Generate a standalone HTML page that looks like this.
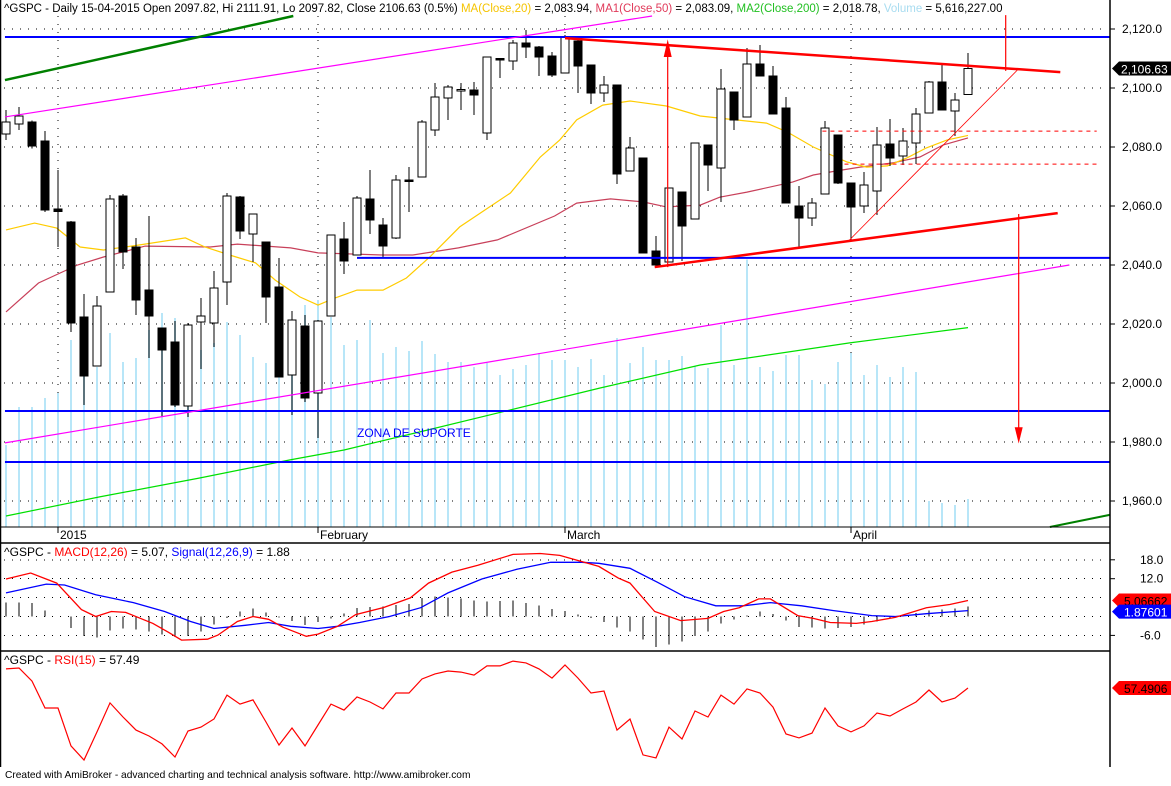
<!DOCTYPE html>
<html><head><meta charset="utf-8"><style>
html,body{margin:0;padding:0;background:#fff;}
body{width:1171px;height:781px;overflow:hidden;font-family:"Liberation Sans",Arial,sans-serif;}
svg text{font-family:"Liberation Sans",Arial,sans-serif;}
</style></head><body>
<svg id="chart" width="1171" height="781" viewBox="0 0 1171 781" xmlns="http://www.w3.org/2000/svg">
<rect width="1171" height="781" fill="#fff"/>
<g id="grid"></g>
<g id="vol"></g>
<g id="mas"></g>
<g id="candles"></g>
<g id="draw"></g>
<g id="macd"></g>
<g id="rsi"></g>
<g id="axes"></g>
<text x="4" y="12" font-size="11.5"><tspan fill="#000">^GSPC - Daily 15-04-2015 Open 2097.82, Hi 2111.91, Lo 2097.82, Close 2106.63 (0.5%) </tspan><tspan fill="#f5c400">MA(Close,20)</tspan><tspan fill="#000"> = 2,083.94, </tspan><tspan fill="#e03a5a">MA1(Close,50)</tspan><tspan fill="#000"> = 2,083.09, </tspan><tspan fill="#22c022">MA2(Close,200)</tspan><tspan fill="#000"> = 2,018.78, </tspan><tspan fill="#a8dcf0">Volume</tspan><tspan fill="#000"> = 5,616,227.00</tspan></text>
<text x="357" y="437" font-size="12" fill="#0000ff">ZONA DE SUPORTE</text>
<text x="4" y="556" font-size="12"><tspan fill="#000">^GSPC - </tspan><tspan fill="#ff0000">MACD(12,26)</tspan><tspan fill="#000"> = 5.07, </tspan><tspan fill="#0000ff">Signal(12,26,9)</tspan><tspan fill="#000"> = 1.88</tspan></text>
<text x="4" y="664" font-size="12"><tspan fill="#000">^GSPC - </tspan><tspan fill="#ff0000">RSI(15)</tspan><tspan fill="#000"> = 57.49</tspan></text>
<text x="5" y="778" font-size="10.2" fill="#000">Created with AmiBroker - advanced charting and technical analysis software. http://www.amibroker.com</text>
</svg>
<script>
const opens=[2084.4,2087.8,2088.5,2082.0,2059.0,2054.6,2022.4,2005.8,2030.8,2063.4,2046.1,2031.5,2018.6,2013.9,1992.2,2020.7,2020.3,2034.2,2063.0,2050.5,2047.8,2032.5,2002.7,2019.3,1996.6,2022.7,2048.8,2043.4,2062.4,2053.6,2049.2,2068.8,2069.8,2085.8,2096.6,2099.0,2099.3,2084.7,2110.0,2109.2,2115.3,2113.9,2110.8,2105.1,2116.0,2107.8,2098.3,2101.0,2071.9,2076.3,2044.7,2041.0,2064.7,2055.6,2080.7,2072.9,2098.6,2090.2,2108.1,2104.1,2093.2,2060.0,2055.9,2064.1,2084.1,2067.8,2060.0,2065.1,2081.0,2076.9,2081.4,2091.5,2102.0,2092.2,2097.82];
const highs=[2092.5,2093.6,2089.0,2085.4,2072.2,2055.0,2030.2,2029.5,2063.7,2064.1,2049.2,2056.6,2018.6,2021.0,2020.3,2028.8,2038.0,2064.4,2063.4,2057.3,2047.8,2042.4,2024.4,2023.0,2021.4,2050.2,2054.6,2063.4,2072.2,2055.9,2070.5,2073.2,2089.2,2101.7,2101.0,2101.7,2102.0,2110.5,2110.2,2116.3,2119.7,2114.2,2112.2,2118.0,2116.3,2107.8,2104.0,2101.0,2083.4,2076.3,2049.8,2066.1,2064.7,2081.4,2080.7,2106.4,2098.6,2113.6,2114.6,2107.5,2096.9,2066.8,2062.7,2088.8,2084.1,2067.8,2071.5,2086.8,2089.5,2086.4,2093.2,2102.4,2107.8,2098.3,2111.91];
const lows=[2082.4,2085.8,2079.5,2058.0,2046.1,2017.3,1992.5,2005.8,2030.8,2038.6,2023.1,2008.5,1988.5,1991.9,1988.5,2004.7,2012.2,2026.4,2048.8,2041.0,2020.3,2002.0,1989.2,1993.6,1981.4,2022.7,2037.0,2043.4,2050.5,2042.7,2048.8,2058.0,2069.8,2083.7,2089.2,2092.5,2090.8,2082.4,2103.4,2106.1,2110.2,2104.0,2103.7,2105.1,2098.3,2094.6,2095.3,2067.5,2071.9,2044.1,2039.7,2041.0,2041.4,2055.6,2065.1,2061.4,2085.8,2090.2,2104.1,2091.2,2061.0,2045.8,2053.2,2064.1,2067.5,2048.1,2057.6,2057.0,2073.6,2073.9,2074.2,2091.5,2092.5,2083.7,2097.82];
const closes=[2088.5,2090.5,2080.3,2058.6,2058.2,2020.3,2002.4,2026.1,2062.4,2044.4,2028.1,2022.7,2011.2,1992.5,2019.7,2022.7,2032.2,2063.4,2051.5,2057.3,2029.2,2002.0,2021.4,1994.9,2021.0,2050.2,2041.4,2062.7,2055.3,2046.4,2068.8,2068.3,2088.5,2097.0,2100.3,2099.5,2097.6,2110.5,2109.8,2115.3,2113.9,2110.5,2104.4,2117.3,2107.5,2098.3,2101.0,2070.8,2079.7,2044.1,2040.0,2066.1,2053.2,2081.4,2073.9,2099.7,2089.2,2108.1,2104.1,2091.2,2061.0,2055.9,2061.0,2086.4,2067.8,2059.7,2067.1,2080.7,2076.3,2082.0,2091.2,2102.0,2092.5,2096.0,2106.63];
const volumes=[16.4,24.1,24.1,25.9,26.9,37.5,38.5,32.1,38.9,33.1,33.9,39.5,42.9,41.9,40.5,35.5,36.9,41.1,38.5,34.1,32.9,41.5,39.5,44.5,45.5,42.1,36.5,37.5,41.5,34.9,36.1,35.3,37.3,34.7,33.1,33.1,32.1,32.9,30.5,31.7,32.5,34.9,33.5,33.5,32.1,33.7,30.5,37.9,32.9,36.1,33.5,33.5,34.3,32.3,31.9,40.5,32.5,53.7,32.1,31.3,34.5,34.5,29.5,28.7,33.1,34.9,30.5,32.5,30.1,32.1,31.1,5.2,4.8,4.4,5.616];
const ma20Idx=[0,2.2,3.9,5.7,7.5,10.3,13.8,15.3,17.2,19.2,20.7,22.6,24,25.3,27,29,30.8,32.6,34.9,37.2,38.8,41.1,42.6,43.9,45.9,48,50.8,53.4,55.5,58.5,60.1,62.1,64.7,66.2,67.8,69.3,70.8,72.4,74];
const ma20=[2051.9,2054.2,2052.5,2046.1,2045.1,2046.8,2049.2,2046.1,2043.4,2040.7,2034.9,2029.2,2026.4,2028.8,2031.5,2031.5,2035.6,2042.7,2052.9,2059.7,2064.4,2076.6,2082.4,2089.2,2094.2,2095.6,2093.9,2090.5,2089.5,2088.1,2085.1,2080.0,2074.9,2073.2,2073.6,2076.3,2079.7,2082.4,2083.94];
const ma50Idx=[0,2.5,5.5,7.5,10.7,15.7,17.8,21.9,24,29,31.3,34.8,37.8,42.2,43.9,46.5,49,50.8,53.4,54.9,57,60.5,62.1,63.9,65.7,68.2,70.3,72.1,74];
const ma50=[2024.1,2033.9,2040.0,2042.7,2046.4,2046.1,2047.1,2045.8,2044.1,2043.4,2043.4,2045.8,2048.5,2056.6,2061.0,2062.4,2061.4,2059.7,2060.3,2063.0,2064.7,2068.1,2070.5,2071.9,2073.2,2074.6,2076.6,2080.7,2083.09];
const ma200Idx=[0,7.2,14.9,21.8,26,31.8,37.8,45.7,53.4,64.9,74];
const ma200=[1954.9,1961.4,1967.8,1973.9,1977.3,1983.4,1989.8,1998.3,2006.1,2013.6,2018.78];
const macdIdx=[0,1.9,3.9,5.8,6.9,8.1,9.2,11.3,12.5,13.5,15.5,16.3,17.8,19,20.2,21.3,23.1,24,25.5,26.9,29,31.1,32.5,34.3,36.3,39,41.1,42.6,45.6,47.1,48,49.9,51.9,54,55.2,56.4,57.9,58.8,60.9,62.1,63.4,65.4,66.6,68.4,70.8,72.6,74];
const macdVals=[11.9,13.8,10.6,2.2,0,1.6,1.3,-2.2,-5,-7.5,-7.2,-5.9,-1.6,0,-0.9,-3.4,-6.3,-5.6,-3.1,0.6,2.8,5.9,10.6,14.1,16.3,19.7,20,19.4,15.9,12.2,10.6,1.6,-1.3,-0.6,1.6,2.8,5.6,5.6,0.3,-0.6,-1.9,-2.2,-1.6,-0.3,2.8,3.8,5.07];
const sigIdx=[0,3.1,4.5,6.9,9.8,12.2,14.2,16,18.4,20.2,21.9,24,25.5,27.2,29.5,31.9,34,36.6,39.3,41.9,44.3,45.6,48,50.1,52.2,54.6,56.7,58.8,61.2,63.6,66.6,68.4,70.8,74];
const sigVals=[7.5,10.3,10,6.9,4.4,1.6,-1.6,-3.8,-2.8,-1.9,-3.1,-3.8,-3.1,-1.9,0,2.8,7.5,11.9,15,17.2,17.2,16.9,15.3,10.9,6.3,3.4,3.4,4.4,3.4,1.9,0.3,0,0.9,1.88];
const rsiVals=[65.8,66.2,60.5,48.8,48.8,32.3,26.2,38.4,51.0,44.9,39.2,36.6,33.2,27.5,38.8,40.5,44.0,54.4,50.5,52.3,42.7,32.7,40.1,32.3,41.4,50.5,47.9,53.6,51.4,48.4,55.3,55.3,61.4,63.6,64.9,64.4,63.1,67.1,67.1,69.2,68.4,65.8,61.8,67.5,61.8,55.3,56.2,39.2,44.0,28.4,27.1,40.5,35.3,47.5,44.9,54.4,50.5,57.1,55.3,49.2,37.5,35.8,37.9,48.8,41.0,38.4,41.0,46.6,45.3,48.4,51.4,56.6,51.4,53.1,57.49];
const priceTicks=[2120,2100,2080,2060,2040,2020,2000,1980,1960];
const priceTickLabels=["2,120.0","2,100.0","2,080.0","2,060.0","2,040.0","2,020.0","2,000.0","1,980.0","1,960.0"];
const macdTicks=[18,12,6,0,-6];
const macdTickLabels=["18.0","12.0","","","-6.0"];
const monthIdx=[4,24,43,65];
const monthLabels=["2015","February","March","April"];

const NS="http://www.w3.org/2000/svg";
const X=i=>6+13*i;
const Y=p=>29+(2120-p)*2.95;
const VY=v=>527-v*4.986;
const MY=v=>616.5-v*3.15;
const RY=r=>688-(r-57.49)*2.3;
function mk(parent,tag,attrs){const e=document.createElementNS(NS,tag);for(const k in attrs)e.setAttribute(k,attrs[k]);document.getElementById(parent).appendChild(e);return e;}
function interp(ix,vals,i){if(i<=ix[0])return vals[0];for(let k=1;k<ix.length;k++){if(i<=ix[k]){const t=(i-ix[k-1])/(ix[k]-ix[k-1]);return vals[k-1]+t*(vals[k]-vals[k-1]);}}return vals[vals.length-1];}

priceTicks.forEach((p,k)=>{
  const g=mk('grid','line',{x1:4,x2:1108,y1:Y(p),y2:Y(p),stroke:'#000','stroke-dasharray':'1,7','shape-rendering':'crispEdges'});
  
  
});
monthIdx.forEach(m=>{
  const g=mk('grid','line',{x1:X(m),x2:X(m),y1:16,y2:527,stroke:'#000','stroke-dasharray':'1,7','shape-rendering':'crispEdges'});
  
  
});
macdTicks.forEach(v=>{
  const g=mk('grid','line',{x1:4,x2:1108,y1:MY(v),y2:MY(v),stroke:'#000','stroke-dasharray':'1,7','shape-rendering':'crispEdges'});
  
  
});

volumes.forEach((v,i)=>{
  const r=mk('vol','rect',{x:X(i)-1,y:VY(v),width:2,height:527-VY(v),fill:'#b8e6f8','shape-rendering':'crispEdges'});
  
  
});

function poly(parent,ix,vals,yf,color,w,name){
  const pts=ix.map((i,k)=>X(i)+','+yf(vals[k]).toFixed(1)).join(' ');
  const p=mk(parent,'polyline',{points:pts,fill:'none',stroke:color,'stroke-width':w});
  
  
  return p;
}
poly('mas',ma200Idx,ma200,Y,'#00e000',1.2,'ma200-line');
poly('mas',ma50Idx,ma50,Y,'#c8405a',1.2,'ma50-line');
poly('mas',ma20Idx,ma20,Y,'#ffcc00',1.2,'ma20-line');

function tl(i1,p1,i2,p2,color,w,name,dash){
  const a={x1:X(i1),y1:Y(p1),x2:X(i2),y2:Y(p2),stroke:color,'stroke-width':w};
  if(dash)a['stroke-dasharray']=dash;
  const l=mk('draw','line',a);
  
  
}
tl(-0.08,2117.3,84.9,2117.3,'#0000ff',2,'resistance-blue-line');
tl(27,2042.4,84.9,2042.4,'#0000ff',2,'support-blue-line');
tl(-0.08,1990.5,84.9,1990.5,'#0000ff',2,'support-zone-top-line');
tl(-0.08,1973.2,84.9,1973.2,'#0000ff',2,'support-zone-bottom-line');
tl(-0.08,2102.7,22.1,2124.4,'#008000',2.5,'green-channel-line');
tl(80.3,1951.2,84.9,1955.3,'#008000',2,'green-channel-line-lower');
tl(-0.08,2090.2,49.7,2124.4,'#ff00ff',1.2,'magenta-channel-upper');
tl(-0.08,1979.7,81.8,2040.0,'#ff00ff',1.2,'magenta-channel-lower');
tl(43,2116.9,81.1,2105.4,'#ff0000',2.5,'triangle-top-line');
tl(49.9,2039.3,80.9,2057.6,'#ff0000',2.5,'triangle-bottom-line');
tl(64.8,2048.1,77.8,2106.1,'#ff0000',0.8,'rising-trendline');
tl(62.8,2085.4,83.9,2085.4,'#ff0000',1,'dashed-level-upper','4,4');
tl(64.5,2074.2,83.9,2074.2,'#ff0000',1,'dashed-level-lower','4,4');
tl(50.9,2039.3,50.9,2113.0,'#ff0000',1.2,'target-arrow-up');
tl(76.9,2124.7,76.9,2105.8,'#ff0000',1.2,'target-marker');
tl(77.9,2057.3,77.9,1982,'#ff0000',1.2,'target-arrow-down');
const ah1=mk('draw','polygon',{points:`${X(50.9)-4},${Y(2110.5)} ${X(50.9)+4},${Y(2110.5)} ${X(50.9)},${Y(2116.5)}`,fill:'#ff0000'});


const ah2=mk('draw','polygon',{points:`${X(77.9)-4},${Y(1985)} ${X(77.9)+4},${Y(1985)} ${X(77.9)},${Y(1979.5)}`,fill:'#ff0000'});



opens.forEach((o,i)=>{
  const c=closes[i],h=highs[i],l=lows[i],x=X(i);
  const w=mk('candles','line',{x1:x,x2:x,y1:Y(h),y2:Y(l),stroke:'#000','stroke-width':1,'shape-rendering':'crispEdges'});
  
  
  const top=Y(Math.max(o,c)),bot=Y(Math.min(o,c));
  const up=c>=o;
  const b=mk('candles','rect',{x:x-4,y:top,width:8,height:Math.max(1.5,bot-top),fill:up?'#fff':'#000',stroke:'#000','stroke-width':1,'shape-rendering':'crispEdges'});
  
  
});

for(let i=0;i<opens.length;i++){
  const h=interp(macdIdx,macdVals,i)-interp(sigIdx,sigVals,i);
  const l=mk('macd','line',{x1:X(i),x2:X(i),y1:MY(0),y2:MY(h),stroke:'#000','stroke-width':1,'shape-rendering':'crispEdges'});
  
  
}
poly('macd',sigIdx,sigVals,MY,'#0000ff',1.3,'signal-line');
poly('macd',macdIdx,macdVals,MY,'#ff0000',1.3,'macd-line');

poly('rsi',rsiVals.map((v,i)=>i),rsiVals,RY,'#ff0000',1.2,'rsi-line');

function ax(tag,attrs,name){const e=mk('axes',tag,attrs);return e;}
ax('line',{x1:1110,x2:1110,y1:0,y2:767,stroke:'#000','stroke-width':1.5},'right-axis-line');
ax('line',{x1:0.5,x2:0.5,y1:0,y2:767,stroke:'#000','stroke-width':1.5},'left-border');
ax('line',{x1:0,x2:1110,y1:527,y2:527,stroke:'#000','stroke-width':1},'date-axis-line');
ax('line',{x1:0,x2:1110,y1:543,y2:543,stroke:'#000','stroke-width':1.5},'pane-separator-macd');
ax('line',{x1:0,x2:1110,y1:651,y2:651,stroke:'#000','stroke-width':1.5},'pane-separator-rsi');
priceTicks.forEach((p,k)=>{
  ax('line',{x1:1110,x2:1115,y1:Y(p),y2:Y(p),stroke:'#000'},'price-tick');
  const t=ax('text',{x:1122,y:Y(p)+4,'font-size':12,fill:'#000'},'price-tick-label');t.textContent=priceTickLabels[k];
});
monthIdx.forEach((m,k)=>{
  ax('line',{x1:X(m),x2:X(m),y1:527,y2:533,stroke:'#000'},'month-tick');
  const t=ax('text',{x:X(m)+2,y:539,'font-size':12,fill:'#000'},'month-label');t.textContent=monthLabels[k];
});
macdTicks.forEach((v,k)=>{
  if(!macdTickLabels[k])return;
  ax('line',{x1:1110,x2:1115,y1:MY(v),y2:MY(v),stroke:'#000'},'macd-tick');
  const t=ax('text',{x:1140,y:MY(v)+4,'font-size':12,fill:'#000'},'macd-tick-label');t.textContent=macdTickLabels[k];
});
function tag(yc,bg,fg,txt,name,x0){
  ax('polygon',{points:`1112,${yc} 1119,${yc-7} 1171,${yc-7} 1171,${yc+7} 1119,${yc+7}`,fill:bg},name);
  const t=ax('text',{x:x0,y:yc+5,'font-size':12,fill:fg},name+'-text');t.textContent=txt;
}
tag(Y(closes[closes.length-1]),'#000','#fff','2,106.63','last-price-tag',1121);
tag(MY(macdVals[macdVals.length-1]),'#ff0000','#000','5.06662','macd-value-tag',1124);
tag(MY(sigVals[sigVals.length-1])+1,'#0000ff','#fff','1.87601','signal-value-tag',1124);
tag(RY(rsiVals[rsiVals.length-1]),'#ff0000','#000','57.4906','rsi-value-tag',1124);
</script>
</body></html>
